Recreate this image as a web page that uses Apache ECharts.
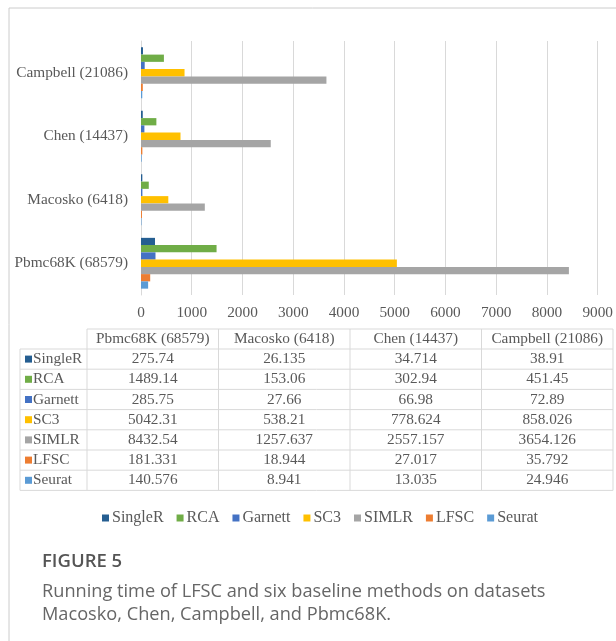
<!DOCTYPE html>
<html>
<head>
<meta charset="utf-8">
<script src="https://cdn.jsdelivr.net/npm/echarts@6/dist/echarts.min.js"></script>
<style>
  html, body { margin: 0; padding: 0; background: #fff; }
  #chart { width: 616px; height: 641px; }
</style>
</head>
<body>
<div id="chart"></div>
<script>
// Datasets (bottom to top on the category axis; same order as table columns)
const datasets = ['Pbmc68K (68579)', 'Macosko (6418)', 'Chen (14437)', 'Campbell (21086)'];

// Running time per method, one value per dataset
const methods = ['SingleR', 'RCA', 'Garnett', 'SC3', 'SIMLR', 'LFSC', 'Seurat'];
const singleR = [275.74, 26.135, 34.714, 38.91];
const rca     = [1489.14, 153.06, 302.94, 451.45];
const garnett = [285.75, 27.66, 66.98, 72.89];
const sc3     = [5042.31, 538.21, 778.624, 858.026];
const simlr   = [8432.54, 1257.637, 2557.157, 3654.126];
const lfsc    = [181.331, 18.944, 27.017, 35.792];
const seurat  = [140.576, 8.941, 13.035, 24.946];
const methodValues = [singleR, rca, garnett, sc3, simlr, lfsc, seurat];

const colors = ['#255E91', '#70AD47', '#4472C4', '#FFC000', '#A5A5A5', '#ED7D31', '#5B9BD5'];

// Value axis ticks
const xTicks = [0, 1000, 2000, 3000, 4000, 5000, 6000, 7000, 8000, 9000];

const SERIF = '"Liberation Serif", "Times New Roman", serif';
const SANS = '"Open Sans", "Noto Sans", sans-serif';
const TEXT = '#595959';
const GRID = '#d9d9d9';

// ---- data table under the chart ----
const tbl = {
  left: 20, labelRight: 87, colW: 131.5,
  top: 329, headH: 20, rowH: 20.2
};
const tableRight = tbl.labelRight + tbl.colW * datasets.length;
const headBottom = tbl.top + tbl.headH;
const tableBottom = headBottom + tbl.rowH * methods.length;
const CELL_FONT = '15.3px ' + SERIF;

const tableGraphics = [];
// horizontal rules
tableGraphics.push({
  type: 'line', shape: { x1: tbl.labelRight, y1: tbl.top, x2: tableRight, y2: tbl.top },
  style: { stroke: GRID, lineWidth: 1 }
});
for (let i = 0; i <= methods.length; i++) {
  const y = headBottom + i * tbl.rowH;
  tableGraphics.push({
    type: 'line', shape: { x1: tbl.left, y1: y, x2: tableRight, y2: y },
    style: { stroke: GRID, lineWidth: 1 }
  });
}
// vertical rules
tableGraphics.push({
  type: 'line', shape: { x1: tbl.left, y1: headBottom, x2: tbl.left, y2: tableBottom },
  style: { stroke: GRID, lineWidth: 1 }
});
for (let j = 0; j <= datasets.length; j++) {
  const x = tbl.labelRight + j * tbl.colW;
  tableGraphics.push({
    type: 'line', shape: { x1: x, y1: tbl.top, x2: x, y2: tableBottom },
    style: { stroke: GRID, lineWidth: 1 }
  });
}
// header text
datasets.forEach((d, j) => {
  tableGraphics.push({
    type: 'text',
    x: tbl.labelRight + (j + 0.5) * tbl.colW, y: tbl.top + tbl.headH / 2,
    style: { text: d, font: CELL_FONT, fill: TEXT, align: 'center', verticalAlign: 'middle' }
  });
});
// rows: legend key, method name, then one value per dataset
methods.forEach((m, i) => {
  const cy = headBottom + (i + 0.5) * tbl.rowH;
  tableGraphics.push({
    type: 'rect', shape: { x: tbl.left + 5, y: cy - 3.5, width: 7, height: 7 },
    style: { fill: colors[i] }
  });
  tableGraphics.push({
    type: 'text', x: tbl.left + 13, y: cy,
    style: { text: m, font: CELL_FONT, fill: TEXT, align: 'left', verticalAlign: 'middle' }
  });
  methodValues[i].forEach((v, j) => {
    tableGraphics.push({
      type: 'text',
      x: tbl.labelRight + (j + 0.5) * tbl.colW, y: cy,
      style: { text: String(v), font: CELL_FONT, fill: TEXT, align: 'center', verticalAlign: 'middle' }
    });
  });
});

// ---- figure frame and caption ----
const frameGraphics = [
  { type: 'line', shape: { x1: 9, y1: 8, x2: 616, y2: 8 }, style: { stroke: '#cccccc', lineWidth: 1 } },
  { type: 'line', shape: { x1: 9, y1: 8, x2: 9, y2: 641 }, style: { stroke: '#cccccc', lineWidth: 1 } },
  {
    type: 'text', x: 42, y: 562,
    style: { text: 'FIGURE 5', font: '600 18.5px ' + SANS, fill: '#555555', verticalAlign: 'middle' }
  },
  {
    type: 'text', x: 42, y: 592,
    style: { text: 'Running time of LFSC and six baseline methods on datasets', font: '18.2px ' + SANS, fill: '#666666', verticalAlign: 'middle' }
  },
  {
    type: 'text', x: 42, y: 615,
    style: { text: 'Macosko, Chen, Campbell, and Pbmc68K.', font: '18.2px ' + SANS, fill: '#666666', verticalAlign: 'middle' }
  }
];

const chart = echarts.init(document.getElementById('chart'), null, { renderer: 'canvas' });

chart.setOption({
  animation: false,
  color: colors,
  grid: { left: 141, top: 41, width: 458, height: 254, containLabel: false },
  xAxis: {
    type: 'value',
    min: xTicks[0], max: xTicks[xTicks.length - 1], interval: 1000,
    axisLine: { show: false },
    axisTick: { show: false },
    splitLine: { lineStyle: { color: GRID, width: 1 } },
    axisLabel: {
      color: TEXT, fontFamily: SERIF, fontSize: 15.3, margin: 10,
      formatter: (v) => String(v)
    }
  },
  yAxis: {
    type: 'category',
    data: datasets,
    axisLine: { lineStyle: { color: GRID } },
    axisTick: { show: false },
    axisLabel: { color: TEXT, fontFamily: SERIF, fontSize: 15.3, margin: 13 }
  },
  legend: {
    data: methods,
    left: 97, top: 505,
    icon: 'rect', itemWidth: 7, itemHeight: 7, itemGap: 13,
    textStyle: { color: TEXT, fontFamily: SERIF, fontSize: 16, padding: [0, 0, 0, -2] }
  },
  // First series is drawn at the top of each group
  series: methods.map((m, i) => ({
    name: m,
    type: 'bar',
    data: methodValues[i],
    itemStyle: { color: colors[i] },
    barGap: '0%',
    barCategoryGap: '20%'
  })),
  graphic: [...frameGraphics, ...tableGraphics]
});
</script>
</body>
</html>
